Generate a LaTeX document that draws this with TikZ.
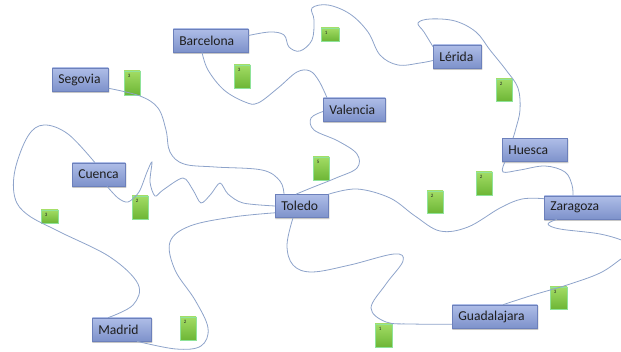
\documentclass[tikz,border=0pt]{standalone}
\usepackage{fontspec}
\setmainfont{Carlito}
\usetikzlibrary{calc,shadows.blur}
\definecolor{road}{HTML}{8EA3CA}
\definecolor{cityTop}{HTML}{AEBDE7}
\definecolor{cityBot}{HTML}{7E92CB}
\definecolor{cityLine}{HTML}{6C80BB}
\definecolor{gTop}{HTML}{A2DC64}
\definecolor{gBot}{HTML}{6DB636}
\definecolor{gLine}{HTML}{8FE39A}
\tikzset{
  city/.style={rectangle, draw=cityLine, line width=0.6pt, top color=cityTop, bottom color=cityBot,
    blur shadow={shadow xshift=0.6pt, shadow yshift=-1.2pt, shadow blur steps=4, shadow opacity=35, shadow blur radius=1pt},
    minimum height=23pt, inner xsep=6pt, inner ysep=0pt, text width=#1, align=left, anchor=west,
    font=\fontsize{13.6}{13.6}\selectfont, text=black!88},
  gbox/.style={rectangle, draw=gLine, line width=0.6pt, top color=gTop, bottom color=gBot, inner sep=0pt},
  gnum/.style={anchor=north west, inner sep=0pt, xshift=4pt, yshift=-3pt, font=\fontsize{5}{5}\selectfont, text=black!85},
  roadline/.style={draw=road, line width=0.8pt},
}
\begin{document}
\begin{tikzpicture}[x=1pt, y=-1pt]
\useasboundingbox (0,0) rectangle (621,352);
\clip (0,0) rectangle (621,352);
% cities
\node[city=63pt] (bar) at (173,40.5) {Barcelona};
\node[city=44pt] (seg) at (52,79.5) {Segovia};
\node[city=36pt] (ler) at (433,56.5) {Lérida};
\node[city=50pt] (val) at (323,109.5) {Valencia};
\node[city=53pt] (hue) at (502,150) {Huesca};
\node[city=41pt] (cue) at (72,174.5) {Cuenca};
\node[city=41pt] (tol) at (275,206) {Toledo};
\node[city=68pt] (zar) at (544,207.5) {Zaragoza};
\node[city=73pt] (gua) at (452,316.5) {Guadalajara};
\node[city=47pt] (mad) at (92,329.5) {Madrid};
% weights
\node[gbox, minimum width=16pt, minimum height=24pt, label={[gnum]north west:3}] (g1) at (132,83) {};
\node[gbox, minimum width=16pt, minimum height=23pt, label={[gnum]north west:3}] (g2) at (242,76.5) {};
\node[gbox, minimum width=18pt, minimum height=13pt, label={[gnum]north west:1}] (g3) at (330,34.5) {};
\node[gbox, minimum width=16pt, minimum height=22pt, label={[gnum]north west:2}] (g4) at (504,90) {};
\node[gbox, minimum width=16pt, minimum height=23pt, label={[gnum]north west:5}] (g5) at (321,168.5) {};
\node[gbox, minimum width=16pt, minimum height=23pt, label={[gnum]north west:2}] (g6) at (140,207.5) {};
\node[gbox, minimum width=17pt, minimum height=13pt, label={[gnum]north west:3}] (g7) at (49.5,216.5) {};
\node[gbox, minimum width=16pt, minimum height=23pt, label={[gnum]north west:2}] (g8) at (188,328.5) {};
\node[gbox, minimum width=16pt, minimum height=22pt, label={[gnum]north west:2}] (g9) at (435,202) {};
\node[gbox, minimum width=16pt, minimum height=23pt, label={[gnum]north west:2}] (g10) at (484,183.5) {};
\node[gbox, minimum width=17pt, minimum height=23pt, label={[gnum]north west:1}] (g11) at (383.5,335.5) {};
\node[gbox, minimum width=17pt, minimum height=22pt, label={[gnum]north west:3}] (g12) at (558.5,298) {};
% roads
\begin{scope}[roadline]
\draw plot[smooth, tension=0.6] coordinates {($(seg.south east)+(0,-3)$) (140,96) (158,108) (166,130) (170,152) (184,164) (215,167) (262,170) (280,181) ($(tol.north west)+(9,0)$)};
\draw plot[smooth, tension=0.6] coordinates {($(bar.south west)+(29,0)$) (208,70) (224,90) (245,102) (258,103) (278,88) (297,72) (310,71) (319,81) ($(val.north west)+(4,0)$)};
\draw plot[smooth, tension=0.6] coordinates {($(bar.east)+(0,-5)$) (270,32) (284,35) (289,47) (300,51) (312,40) (314,20) (312,8) (328,5) (350,14) (368,32) (380,55) (398,65) (420,63) ($(ler.west)+(0,4)$)};
\draw plot[smooth, tension=0.6] coordinates {($(ler.north west)+(0,2)$) (424,32) (418,23) (430,19) (455,21) (476,32) (490,50) (506,70) (518,88) (520,110) (516,128) ($(hue.north west)+(11,0)$)};
\draw plot[smooth, tension=0.6] coordinates {($(val.west)+(0,2)$) (311,118) (314,130) (338,141) (357,154) (357,168) (336,178) (311,188) ($(tol.north west)+(21,0)$)};
\draw plot[smooth, tension=0.6] coordinates {($(hue.south west)+(3,0)$) (503,172) (520,170) (545,166) (565,172) (572,185) ($(zar.north west)+(29,0)$)};
\draw plot[smooth, tension=0.6] coordinates {(tol.north east) (357,189) (390,198) (415,216) (440,231) (468,227) (500,208) (522,199) ($(zar.north west)+(0,3)$)};
\draw plot[smooth, tension=0.6] coordinates {($(zar.south west)+(13,0)$) (548,224) (560,229) (600,234) (626,242) (634,250) (621,259) (600,273) (567,285) (533,295) ($(gua.north west)+(51,0)$)};
\draw plot[smooth, tension=0.6] coordinates {($(tol.south west)+(18,0)$) (287,245) (293,265) (312,272) (350,265) (394,254) (403,261) (386,284) (371,308) (386,322) (412,324) ($(gua.south west)+(0,-4)$)};
\draw plot[smooth, tension=0.6] coordinates {($(tol.south west)+(0,-5)$) (233,217) (190,226) (170,242) (175,270) (195,300) (208,328) (201,346) (176,349) ($(mad.south west)+(45,0)$)};
\draw plot[smooth, tension=0.6] coordinates {($(cue.north west)+(23,0)$) (68,134) (44,125) (28,136) (15,170) (15,198) (28,215) (60,232) (110,257) (138,284) (133,305) ($(mad.north west)+(16,0)$)};
\draw plot[smooth, tension=0.5] coordinates {($(cue.south west)+(35,0)$) (118,198) (128,202) (139,192) (147,172) (152,162) (150,182) (155,196) (163,190) (183,178) (193,190) (201,203) (211,194) (220,183) (228,194) (243,203) (tol.west)};
\end{scope}
\end{tikzpicture}
\end{document}
